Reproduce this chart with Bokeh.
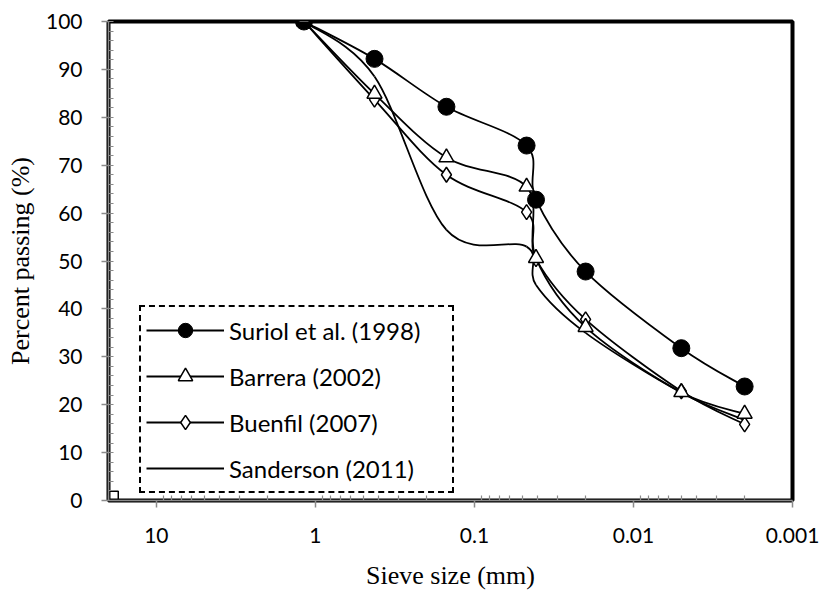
import numpy as np
from bokeh.plotting import figure
from bokeh.models import (Range1d, FixedTicker, SingleIntervalTicker, Legend,
                          LegendItem, ColumnDataSource)
from bokeh.embed import file_html
from bokeh.resources import INLINE

# ---------------- data ----------------
sieve_mm = [1.18, 0.425, 0.15, 0.047, 0.041, 0.02, 0.005, 0.002]
suriol = [100, 92.2, 82.2, 74.1, 62.8, 47.8, 31.8, 23.8]
barrera = [100, 84.9, 71.6, 65.5, 50.6, 36.2, 22.6, 18.1]
buenfil = [100, 83.7, 68.0, 60.2, 50.4, 37.8, 22.8, 15.9]
sanderson = [100, 88.5, 56.5, 53.0, 45.0, 35.0, 22.5, 16.8]
series_names = ["Suriol et al. (1998)", "Barrera (2002)", "Buenfil (2007)", "Sanderson (2011)"]
extra_x = [18.8]
extra_y = [0.8]
x_ticks = [10, 1, 0.1, 0.01, 0.001]
x_tick_labels = ["10", "1", "0.1", "0.01", "0.001"]

# screen scale factors used only for the smoothing (px per decade, px per %)
PX_DEC = 159.0
PX_PCT = 4.79


def smooth_segments(xs, ys):
    """Excel-like smoothed line: cubic Bezier segments in screen space."""
    X = np.log10(np.asarray(xs, float)) * PX_DEC
    Y = np.asarray(ys, float) * PX_PCT
    n = len(X)
    out = {k: [] for k in ("x0", "y0", "x1", "y1", "cx0", "cy0", "cx1", "cy1")}
    for i in range(n - 1):
        i0 = i - 1 if i > 0 else i
        i3 = i + 2 if i + 2 < n else i + 1
        P0 = np.array([X[i0], Y[i0]])
        P1 = np.array([X[i], Y[i]])
        P2 = np.array([X[i + 1], Y[i + 1]])
        P3 = np.array([X[i3], Y[i3]])
        d12 = np.hypot(*(P2 - P1))
        d02 = np.hypot(*(P2 - P0))
        d13 = np.hypot(*(P3 - P1))
        f = 1 / 6 if d02 == 0 else min(1 / 6, 0.5 * d12 / d02)
        g = 1 / 6 if d13 == 0 else min(1 / 6, 0.5 * d12 / d13)
        C1 = P1 + f * (P2 - P0)
        C2 = P2 - g * (P3 - P1)
        for key, P in (("0", P1), ("1", P2)):
            out["x" + key].append(10 ** (P[0] / PX_DEC))
            out["y" + key].append(P[1] / PX_PCT)
        out["cx0"].append(10 ** (C1[0] / PX_DEC))
        out["cy0"].append(C1[1] / PX_PCT)
        out["cx1"].append(10 ** (C2[0] / PX_DEC))
        out["cy1"].append(C2[1] / PX_PCT)
    return ColumnDataSource(out)


p = figure(width=824, height=592, x_axis_type="log",
           x_range=Range1d(20, 0.001), y_range=Range1d(0, 100),
           output_backend="svg", toolbar_location=None,
           min_border_left=108, min_border_right=32,
           min_border_top=21, min_border_bottom=92,
           background_fill_color="white", border_fill_color="white")
p.grid.visible = False
p.outline_line_color = "black"
p.outline_line_width = 4

LW = 1.8
all_series = [suriol, barrera, buenfil, sanderson]
line_rs = []
for ys in all_series:
    r = p.bezier(x0="x0", y0="y0", x1="x1", y1="y1", cx0="cx0", cy0="cy0",
                 cx1="cx1", cy1="cy1", source=smooth_segments(sieve_mm, ys),
                 line_color="black", line_width=LW)
    line_rs.append(r)

m_bu = p.scatter(sieve_mm, buenfil, marker="diamond", size=15,
                 fill_color="white", line_color="black", line_width=1.5)
m_ba = p.scatter(sieve_mm, barrera, marker="triangle", size=15,
                 fill_color="white", line_color="black", line_width=1.5)
m_su = p.scatter(sieve_mm, suriol, marker="circle", size=17,
                 fill_color="black", line_color="black", line_width=1)
p.scatter(extra_x, extra_y, marker="square", size=11, fill_color=None,
          line_color="black", line_width=1.5)

# axes
xa = p.xaxis[0]
ya = p.yaxis[0]
xa.ticker = FixedTicker(ticks=x_ticks,
                        minor_ticks=[m * 10.0 ** e for e in range(-3, 1) for m in range(2, 10)] + [20])
xa.major_label_overrides = {t: l for t, l in zip(x_ticks, x_tick_labels)}
ya.ticker = SingleIntervalTicker(interval=10, num_minor_ticks=5)
for ax in (xa, ya):
    ax.axis_line_color = "#8a8a8a"
    ax.axis_line_width = 1.5
    ax.major_tick_line_color = "#8a8a8a"
    ax.major_tick_line_width = 1.5
    ax.major_tick_out = 7
    ax.major_tick_in = 0
    ax.minor_tick_line_color = "#8a8a8a"
    ax.minor_tick_line_width = 1.2
    ax.minor_tick_in = 5
    ax.minor_tick_out = 0
    ax.major_label_text_font = "Lato"
    ax.major_label_text_font_size = "21px"
    ax.major_label_text_color = "black"
    ax.axis_label_text_font = "Liberation Serif"
    ax.axis_label_text_font_style = "normal"
    ax.axis_label_text_font_size = "26px"
    ax.axis_label_text_color = "black"
xa.axis_label = "Sieve size (mm)"
ya.axis_label = "Percent passing (%)"
xa.major_label_standoff = 20
xa.axis_label_standoff = 15
ya.major_label_standoff = 19
ya.axis_label_standoff = 8

items = [
    LegendItem(label=series_names[0], renderers=[line_rs[0], m_su]),
    LegendItem(label=series_names[1], renderers=[line_rs[1], m_ba]),
    LegendItem(label=series_names[2], renderers=[line_rs[2], m_bu]),
    LegendItem(label=series_names[3], renderers=[line_rs[3]]),
]
legend = Legend(items=items, location=(31, 7),
                border_line_color="black", border_line_width=2,
                border_line_alpha=1.0, border_line_dash="8 5",
                background_fill_color="white", background_fill_alpha=1,
                label_text_font="Lato", label_text_font_size="24px",
                label_text_color="black",
                glyph_width=78, glyph_height=36, label_height=36,
                label_width=218, spacing=10, padding=5, label_standoff=5,
                margin=0)
p.add_layout(legend)

open("out.html", "w").write(file_html(p, INLINE))
